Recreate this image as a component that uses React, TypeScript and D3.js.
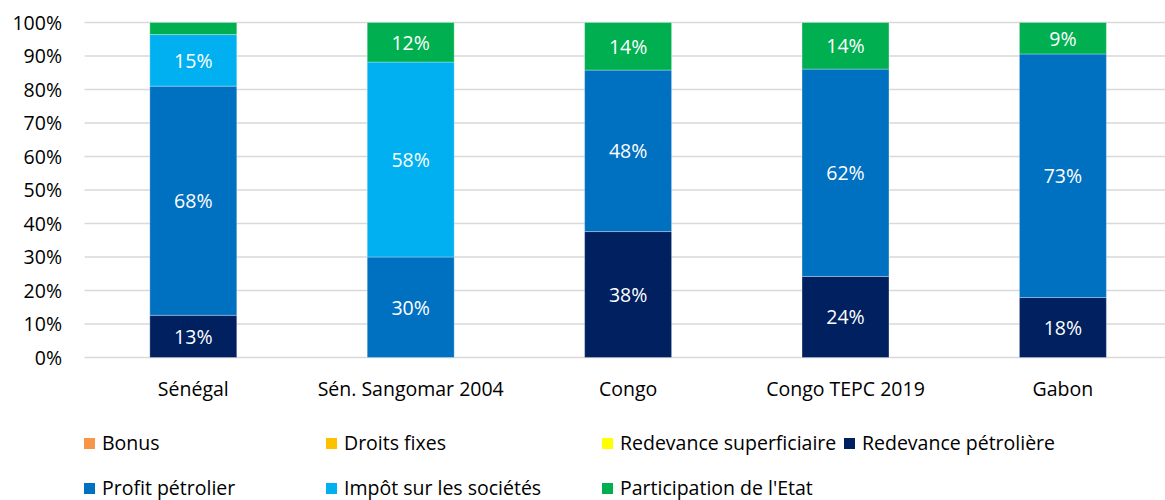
import React from "react";
import * as d3 from "d3";

const categories = ["Sénégal", "Sén. Sangomar 2004", "Congo", "Congo TEPC 2019", "Gabon"];
const seriesNames = [
  "Bonus",
  "Droits fixes",
  "Redevance superficiaire",
  "Redevance pétrolière",
  "Profit pétrolier",
  "Impôt sur les sociétés",
  "Participation de l'Etat",
];
const seriesColors = ["#F79646", "#FFC000", "#FFFF00", "#002060", "#0070C0", "#00B0F0", "#00B050"];
const bonus = [0, 0, 0, 0, 0];
const droitsFixes = [0, 0, 0, 0, 0];
const redevanceSuperficiaire = [0, 0, 0, 0, 0];
const redevancePetroliere = [12.6, 0, 37.6, 24.2, 17.9];
const profitPetrolier = [68.4, 30, 48.2, 61.9, 72.7];
const impotSocietes = [15.4, 58.2, 0, 0, 0];
const participationEtat = [3.6, 11.8, 14.2, 13.9, 9.4];
const yTicks = [0, 10, 20, 30, 40, 50, 60, 70, 80, 90, 100];

const seriesValues = [bonus, droitsFixes, redevanceSuperficiaire, redevancePetroliere, profitPetrolier, impotSocietes, participationEtat];

const W = 1165;
const H = 500;
const FONT = "'Open Sans', 'Noto Sans', sans-serif";
const FS = 19.5;

export default function App() {
  const x = d3.scaleBand<string>().domain(categories).range([84.6, 1171.6]).paddingInner(0.6).paddingOuter(0.3);
  const y = d3.scaleLinear().domain([0, 100]).range([357.5, 22.5]);

  const table = categories.map((c, i) => {
    const row: any = { cat: c };
    seriesNames.forEach((s, j) => (row[s] = seriesValues[j][i]));
    return row;
  });
  const stacked = d3.stack<any>().keys(seriesNames)(table);

  const legendCols = [84, 326, 602, 844];
  const legendRows = [438, 483];
  const legendItems = seriesNames.map((s, i) => ({
    name: s,
    color: seriesColors[i],
    x: legendCols[i % 4],
    y: legendRows[Math.floor(i / 4)],
  }));

  return (
    <svg width={W} height={H} style={{ position: "absolute", left: 0, top: 0, background: "#fff" }} fontFamily={FONT}>
      {yTicks.map((t) => (
        <g key={t}>
          <line x1={84.6} x2={W} y1={y(t)} y2={y(t)} stroke="#D9D9D9" strokeWidth={1.3} />
          <text x={62} y={y(t) + 7.3} textAnchor="end" fontSize={FS} fill="#000">
            {t}%
          </text>
        </g>
      ))}
      {stacked.map((layer, j) => (
        <g key={layer.key} fill={seriesColors[j]}>
          {layer.map((d, i) =>
            d[1] - d[0] > 0 ? (
              <rect
                key={i}
                x={x(categories[i])}
                width={x.bandwidth()}
                y={y(d[1])}
                height={y(d[0]) - y(d[1])}
                stroke="#ffffff"
                strokeOpacity={0.3}
                strokeWidth={1}
              />
            ) : null
          )}
        </g>
      ))}
      {stacked.map((layer, j) =>
        layer.map((d, i) => {
          const v = d[1] - d[0];
          if (v < 5) return null;
          return (
            <text
              key={`${j}-${i}`}
              x={(x(categories[i]) as number) + x.bandwidth() / 2}
              y={y((d[0] + d[1]) / 2) + 7.3}
              textAnchor="middle"
              fontSize={FS}
              fill="#fff"
            >
              {Math.round(v)}%
            </text>
          );
        })
      )}
      {categories.map((c) => (
        <text key={c} x={(x(c) as number) + x.bandwidth() / 2} y={396} textAnchor="middle" fontSize={FS} fill="#000">
          {c}
        </text>
      ))}
      {legendItems.map((l) => (
        <g key={l.name}>
          <rect x={l.x} y={l.y} width={11} height={11} fill={l.color} />
          <text x={l.x + 18} y={l.y + 12} fontSize={FS} fill="#000">
            {l.name}
          </text>
        </g>
      ))}
    </svg>
  );
}
